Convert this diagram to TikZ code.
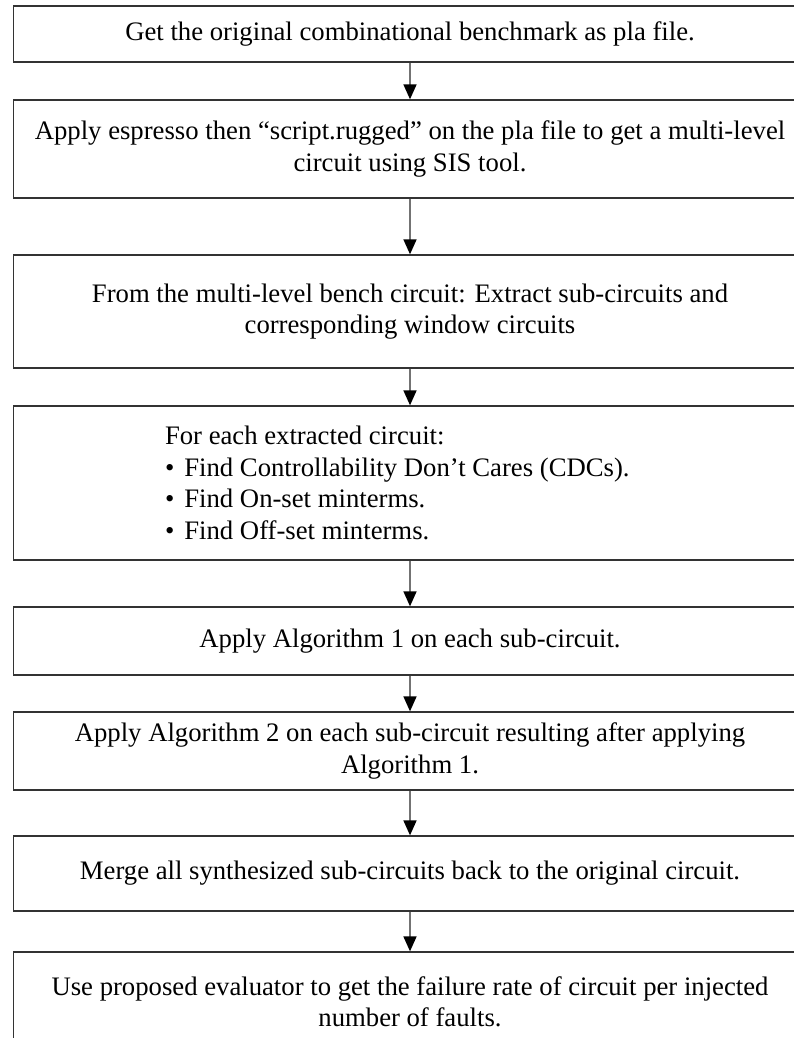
\documentclass[tikz,border=0pt]{standalone}
\usepackage{fontspec}
\setmainfont{Liberation Serif}
\usetikzlibrary{arrows.meta}
% list bullet followed by a fixed gap
\newcommand{\stepbullet}{•\hspace{10pt}}
\begin{document}
\begin{tikzpicture}[x=1pt,y=-1pt,
  stepbox/.style={draw=black!80, line width=1.3pt, minimum width=793pt,
    inner sep=0pt, align=center, font=\fontsize{26.7}{31.5}\selectfont},
  flow/.style={draw=black!55, line width=1.6pt,
    -{Triangle[length=15pt,width=13pt,black]}}]
\useasboundingbox (0,0) rectangle (794,1038);
\clip (0,0) rectangle (794,1038);

\node[stepbox, minimum height=56pt] (b1) at (410,34)
  {Get the original combinational benchmark as pla file.};
\node[stepbox, minimum height=98pt] (b2) at (410,149)
  {Apply espresso then “script.rugged” on the pla file to get a multi-level\\
   circuit using SIS tool.};
\node[stepbox, minimum height=113pt] (b3) at (410,311.5)
  {From the multi-level bench circuit: Extract sub-circuits and\\
   corresponding window circuits};
\node[stepbox, minimum height=154pt, text width=490pt, align=flush left] (b4) at (410,483)
  {For each extracted circuit:\\
   \stepbullet Find Controllability Don’t Cares (CDCs).\\
   \stepbullet Find On-set minterms.\\
   \stepbullet Find Off-set minterms.};
\node[stepbox, minimum height=68pt] (b5) at (410,641)
  {Apply Algorithm 1 on each sub-circuit.};
\node[stepbox, minimum height=78pt] (b6) at (410,751)
  {Apply Algorithm 2 on each sub-circuit resulting after applying\\
   Algorithm 1.};
\node[stepbox, minimum height=75pt] (b7) at (410,873.5)
  {Merge all synthesized sub-circuits back to the original circuit.};
\node[stepbox, minimum height=100pt] (b8) at (410,1002)
  {Use proposed evaluator to get the failure rate of circuit per injected\\
   number of faults.};

\draw[flow] (b1.south) -- (b2.north);
\draw[flow] (b2.south) -- (b3.north);
\draw[flow] (b3.south) -- (b4.north);
\draw[flow] (b4.south) -- (b5.north);
\draw[flow] (b5.south) -- (b6.north);
\draw[flow] (b6.south) -- (b7.north);
\draw[flow] (b7.south) -- (b8.north);
\end{tikzpicture}
\end{document}
